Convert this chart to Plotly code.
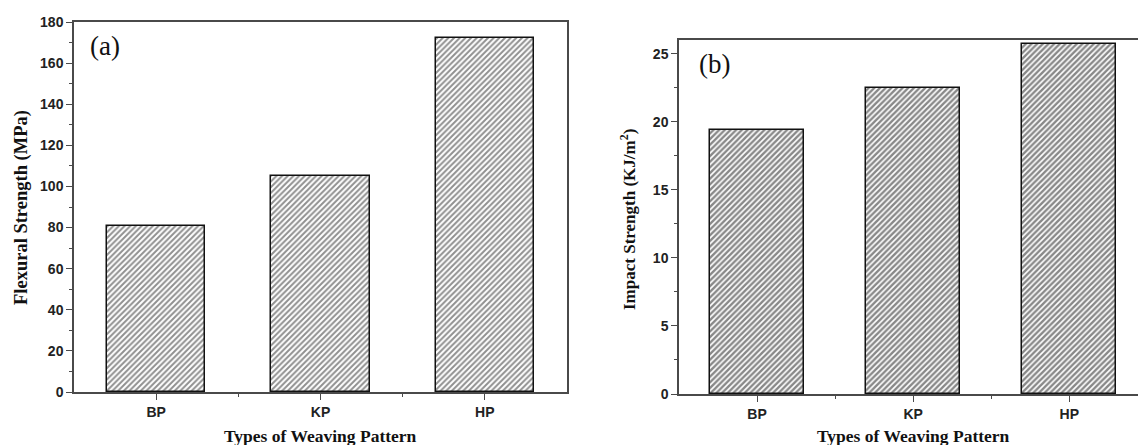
import plotly.graph_objects as go

categories = ["BP", "KP", "HP"]
flexural_strength = [81, 105, 172]      # MPa
impact_strength = [19.4, 22.5, 25.7]    # KJ/m^2
positions = list(range(len(categories)))

W, H = 1138, 445
axis_col = "#4a4a4a"
tick_font = dict(family="Liberation Sans, Arial, sans-serif", size=14, color="#222", weight="bold")
title_font = dict(family="Liberation Serif, Times New Roman, serif", size=17.5, color="#111")

fig = go.Figure()

fig.add_trace(go.Bar(
    x=positions, y=flexural_strength, width=0.6,
    marker=dict(color="white", line=dict(color="#111", width=1.5),
                pattern=dict(shape="/", fgcolor="#222", bgcolor="white", size=4, solidity=0.5)),
    xaxis="x", yaxis="y", showlegend=False))

fig.add_trace(go.Bar(
    x=positions, y=impact_strength, width=0.6,
    marker=dict(color="white", line=dict(color="#111", width=1.5),
                pattern=dict(shape="/", fgcolor="#111", bgcolor="white", size=4, solidity=0.6)),
    xaxis="x2", yaxis="y2", showlegend=False))

def px_x(v):
    return v / W

def px_y(v):
    return 1 - v / H

common_x = dict(
    tickmode="array", tickvals=positions, ticktext=categories,
    ticks="outside", ticklen=6, tickwidth=1.2, tickcolor=axis_col,
    showline=True, linecolor=axis_col, linewidth=1.5,
    showgrid=False, zeroline=False, tickfont=tick_font,
    minor=dict(tickmode="array", tickvals=[0.5, 1.5], ticks="outside",
               ticklen=3, tickwidth=1.2, tickcolor=axis_col),
    automargin=False, fixedrange=True,
)
common_y = dict(
    ticks="outside", ticklen=6, tickwidth=1.2, tickcolor=axis_col,
    showline=True, linecolor=axis_col, linewidth=1.5,
    showgrid=False, zeroline=False, tickfont=tick_font,
    automargin=False, fixedrange=True,
)

fig.update_layout(
    width=W, height=H,
    margin=dict(l=0, r=0, t=0, b=0),
    paper_bgcolor="white", plot_bgcolor="white",
    bargap=0,
    xaxis=dict(common_x, domain=[px_x(74), px_x(567)], range=[-0.5, 2.5],
               mirror=True, anchor="y"),
    yaxis=dict(common_y, domain=[px_y(392), px_y(22)], range=[0, 180], dtick=20,
               mirror=True, anchor="x",
               minor=dict(dtick=10, ticks="outside", ticklen=3, tickwidth=1.2, tickcolor=axis_col)),
    xaxis2=dict(common_x, domain=[px_x(679), 1.0], range=[-0.5, 2.44],
                mirror=True, anchor="y2"),
    yaxis2=dict(common_y, domain=[px_y(394), px_y(40)], range=[0, 26], dtick=5,
                mirror=False, anchor="x2",
                minor=dict(dtick=2.5, ticks="outside", ticklen=3, tickwidth=1.2, tickcolor=axis_col)),
    annotations=[
        dict(text="<b>Flexural Strength (MPa)</b>", x=px_x(21), y=px_y(208), xref="paper", yref="paper",
             textangle=-90, showarrow=False, font=dict(title_font, size=18.5), xanchor="center", yanchor="middle"),
        dict(text="<b>Types of Weaving Pattern</b>", x=px_x(320), y=px_y(436), xref="paper", yref="paper",
             showarrow=False, font=title_font, xanchor="center", yanchor="middle"),
        dict(text="<b>Impact Strength (KJ/m<sup>2</sup>)</b>", x=px_x(628), y=px_y(220), xref="paper", yref="paper",
             textangle=-90, showarrow=False, font=dict(title_font, size=17), xanchor="center", yanchor="middle"),
        dict(text="<b>Types of Weaving Pattern</b>", x=px_x(913), y=px_y(436), xref="paper", yref="paper",
             showarrow=False, font=title_font, xanchor="center", yanchor="middle"),
        dict(text="(a)", x=px_x(88), y=px_y(46), xref="paper", yref="paper",
             showarrow=False, xanchor="left", yanchor="middle",
             font=dict(family="Liberation Serif, Times New Roman, serif", size=27, color="#111")),
        dict(text="(b)", x=px_x(697), y=px_y(64), xref="paper", yref="paper",
             showarrow=False, xanchor="left", yanchor="middle",
             font=dict(family="Liberation Serif, Times New Roman, serif", size=27, color="#111")),
    ],
)

fig.write_html("out.html")
